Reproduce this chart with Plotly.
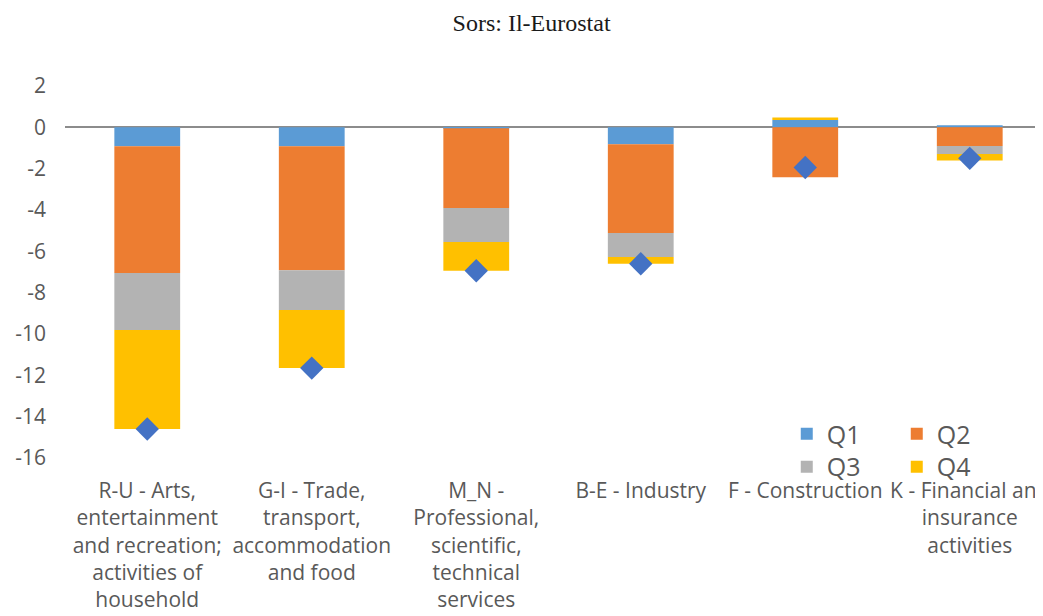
import plotly.graph_objects as go

categories = [
    "R-U - Arts,<br>entertainment<br>and recreation;<br>activities of<br>household",
    "G-I - Trade,<br>transport,<br>accommodation<br>and food",
    "M_N -<br>Professional,<br>scientific,<br>technical<br>services",
    "B-E - Industry",
    "F - Construction",
    "K - Financial and<br>insurance<br>activities",
]
q1 = [-0.92, -0.92, -0.05, -0.82, 0.35, 0.10]
q2 = [-6.13, -6.00, -3.85, -4.29, -2.42, -0.90]
q3 = [-2.76, -1.92, -1.65, -1.16, 0.00, -0.39]
q4 = [-4.79, -2.81, -1.39, -0.33, 0.13, -0.32]
totals = [-14.60, -11.65, -6.94, -6.60, -1.94, -1.50]

y_ticks = [2, 0, -2, -4, -6, -8, -10, -12, -14, -16]

series = [("Q1", q1, "#5B9BD5", "legend"), ("Q2", q2, "#ED7D31", "legend"),
          ("Q3", q3, "#B3B3B3", "legend2"), ("Q4", q4, "#FFC000", "legend2")]

xs = list(range(len(categories)))
fig = go.Figure()
for name, vals, color, leg in series:
    fig.add_trace(go.Bar(x=xs, y=vals, name=name, marker=dict(color=color, line=dict(width=0)),
                         legend=leg))
fig.add_trace(go.Scatter(x=xs, y=totals, mode="markers", showlegend=False,
                         marker=dict(symbol="diamond", size=18, color="#4472C4")))

tick_font = dict(family="Open Sans, sans-serif", size=21, color="#595959")
ytick_font = dict(family="Open Sans, sans-serif", size=21, color="#595959")
leg_font = dict(family="Open Sans, sans-serif", size=25, color="#595959")

fig.update_layout(
    width=1043, height=616,
    margin=dict(l=57, r=8, t=78, b=166, autoexpand=False),
    paper_bgcolor="white", plot_bgcolor="white",
    barmode="relative", bargap=0.6,
    title=dict(text="Sors: Il-Eurostat", x=0.502, xref="container", xanchor="center",
               y=0.977, yref="container", yanchor="middle",
               font=dict(family="Liberation Serif, serif", size=24, color="#1a1a1a")),
    xaxis=dict(range=[-0.5, 5.4453], tickmode="array", tickvals=xs, ticktext=categories,
               showgrid=False, showline=False, zeroline=False, ticks="",
               tickfont=tick_font, ticklabelstandoff=18, tickangle=0,
               automargin=False, ticklabeloverflow="allow"),
    yaxis=dict(range=[-16, 2], tickmode="array", tickvals=y_ticks,
               ticktext=[str(v) for v in y_ticks],
               showgrid=False, showline=False, zeroline=True,
               zerolinecolor="#8C8C8C", zerolinewidth=2,
               tickfont=ytick_font, ticks="", ticklabelstandoff=18, automargin=False),
    legend=dict(orientation="h", x=0.738, xanchor="left", y=0.0645, yanchor="middle",
                entrywidth=65, font=leg_font, bgcolor="rgba(0,0,0,0)", traceorder="normal"),
    legend2=dict(orientation="h", x=0.738, xanchor="left", y=-0.024, yanchor="middle",
                 entrywidth=65, font=leg_font, bgcolor="rgba(0,0,0,0)", traceorder="normal"),
)

fig.write_html("out.html")
